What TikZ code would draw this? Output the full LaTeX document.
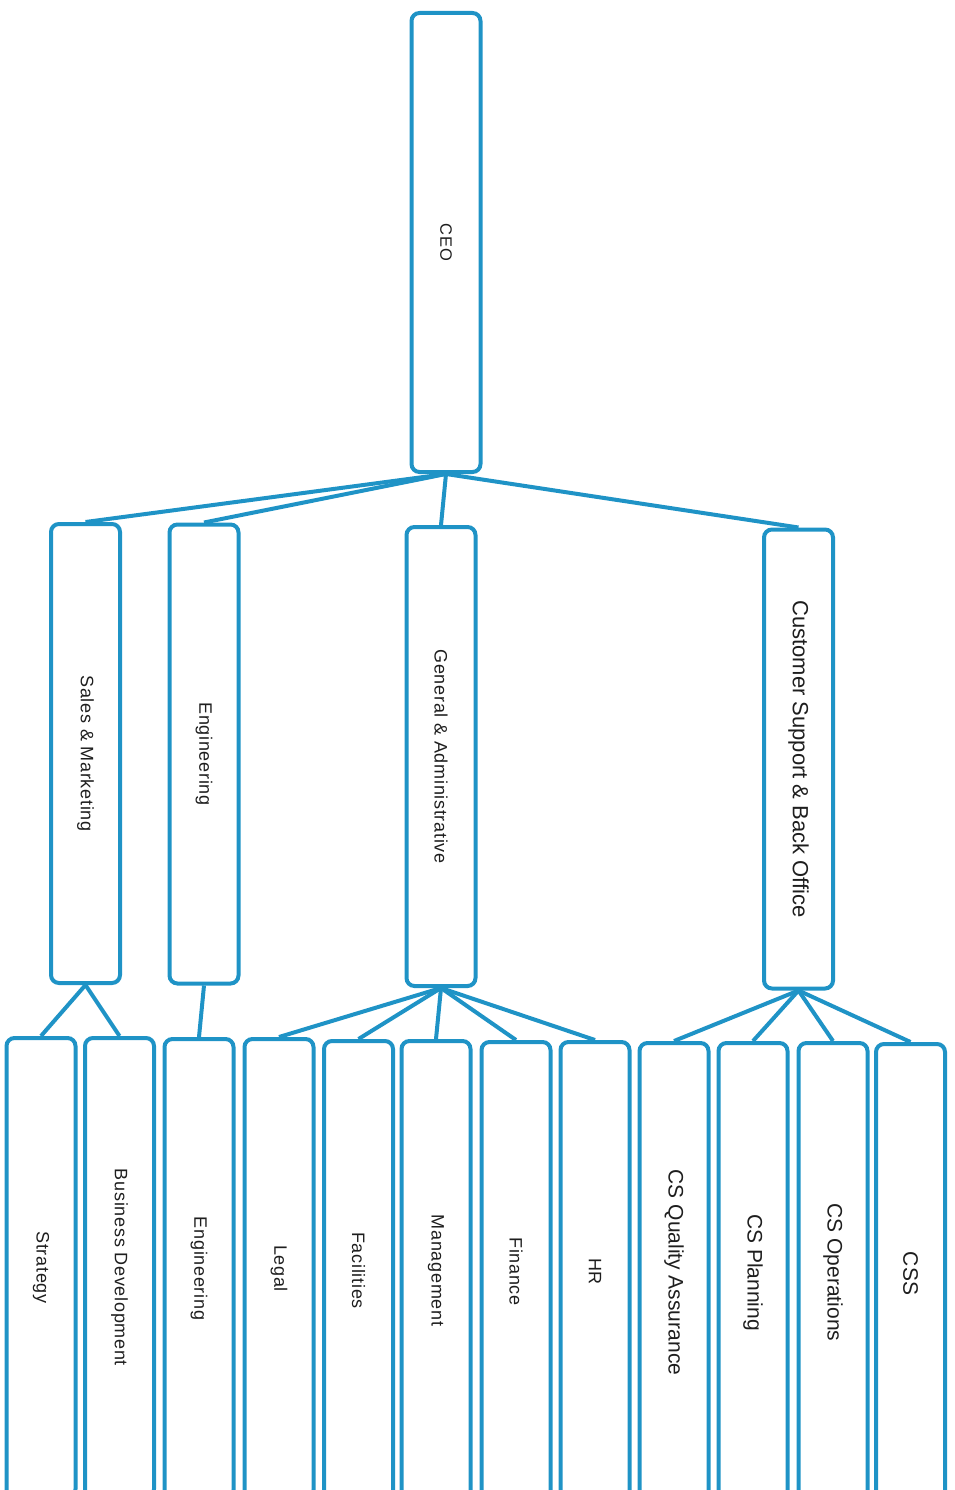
\documentclass[tikz,border=0pt]{standalone}
\usepackage{fontspec}
\setmainfont{Liberation Sans}
\newfontfamily\spacedfont[LetterSpace=4]{Liberation Sans}
\definecolor{orgblue}{RGB}{31,147,198}
\definecolor{txtgray}{RGB}{30,30,30}
\begin{document}
\begin{tikzpicture}[x=1pt,y=-1pt,
  orgbox/.style={draw=orgblue, line width=4pt, rounded corners=8pt,
    minimum width=69pt, minimum height=459pt, inner sep=0pt, text=txtgray},
  conn/.style={draw=orgblue, line width=4pt},
  lt/.style={font=\spacedfont\fontsize{18}{21}\selectfont},
  ceot/.style={font=\spacedfont\fontsize{16.5}{19}\selectfont},
  cst/.style={font=\fontsize{21}{24}\selectfont},
  cbt/.style={font=\fontsize{22}{25}\selectfont}]
\useasboundingbox (0,0) rectangle (954,1490);
\clip (0,0) rectangle (954,1490);
% level 1
\node[orgbox,ceot] (ceo) at (446,242.5) {\rotatebox{-90}{CEO}};
% level 2
\node[orgbox,lt] (sales) at (85.5,753.5) {\rotatebox{-90}{Sales \& Marketing}};
\node[orgbox,lt] (eng) at (204,754) {\rotatebox{-90}{Engineering}};
\node[orgbox,lt] (ga) at (441,756.5) {\rotatebox{-90}{General \& Administrative}};
\node[orgbox,cbt] (cs) at (798.5,759) {\rotatebox{-90}{Customer Support \& Back Office}};
% level 3
\node[orgbox,lt] (strat) at (41,1267.5) {\rotatebox{-90}{Strategy}};
\node[orgbox,lt] (bizdev) at (119.5,1267.5) {\rotatebox{-90}{Business Development}};
\node[orgbox,lt] (engb) at (199,1268.5) {\rotatebox{-90}{Engineering}};
\node[orgbox,lt] (legal) at (279,1268.5) {\rotatebox{-90}{Legal}};
\node[orgbox,lt] (fac) at (358.5,1270.5) {\rotatebox{-90}{Facilities}};
\node[orgbox,lt] (mgmt) at (436,1270.5) {\rotatebox{-90}{Management}};
\node[orgbox,lt] (fin) at (516,1271.5) {\rotatebox{-90}{Finance}};
\node[orgbox,lt] (hr) at (595,1271.5) {\rotatebox{-90}{HR}};
\node[orgbox,cst] (csqa) at (674,1272.5) {\rotatebox{-90}{CS Quality Assurance}};
\node[orgbox,cst] (csp) at (753,1272.5) {\rotatebox{-90}{CS Planning}};
\node[orgbox,cst] (cso) at (833,1272.5) {\rotatebox{-90}{CS Operations}};
\node[orgbox,cst] (css) at (910.5,1273.5) {\rotatebox{-90}{CSS}};
% connectors
\draw[conn] (ceo.south) -- (sales.north);
\draw[conn] (ceo.south) -- (eng.north);
\draw[conn] (ceo.south) -- (ga.north);
\draw[conn] (ceo.south) -- (cs.north);
\draw[conn] (sales.south) -- (strat.north);
\draw[conn] (sales.south) -- (bizdev.north);
\draw[conn] (eng.south) -- (engb.north);
\draw[conn] (ga.south) -- (legal.north);
\draw[conn] (ga.south) -- (fac.north);
\draw[conn] (ga.south) -- (mgmt.north);
\draw[conn] (ga.south) -- (fin.north);
\draw[conn] (ga.south) -- (hr.north);
\draw[conn] (cs.south) -- (csqa.north);
\draw[conn] (cs.south) -- (csp.north);
\draw[conn] (cs.south) -- (cso.north);
\draw[conn] (cs.south) -- (css.north);
\end{tikzpicture}
\end{document}
